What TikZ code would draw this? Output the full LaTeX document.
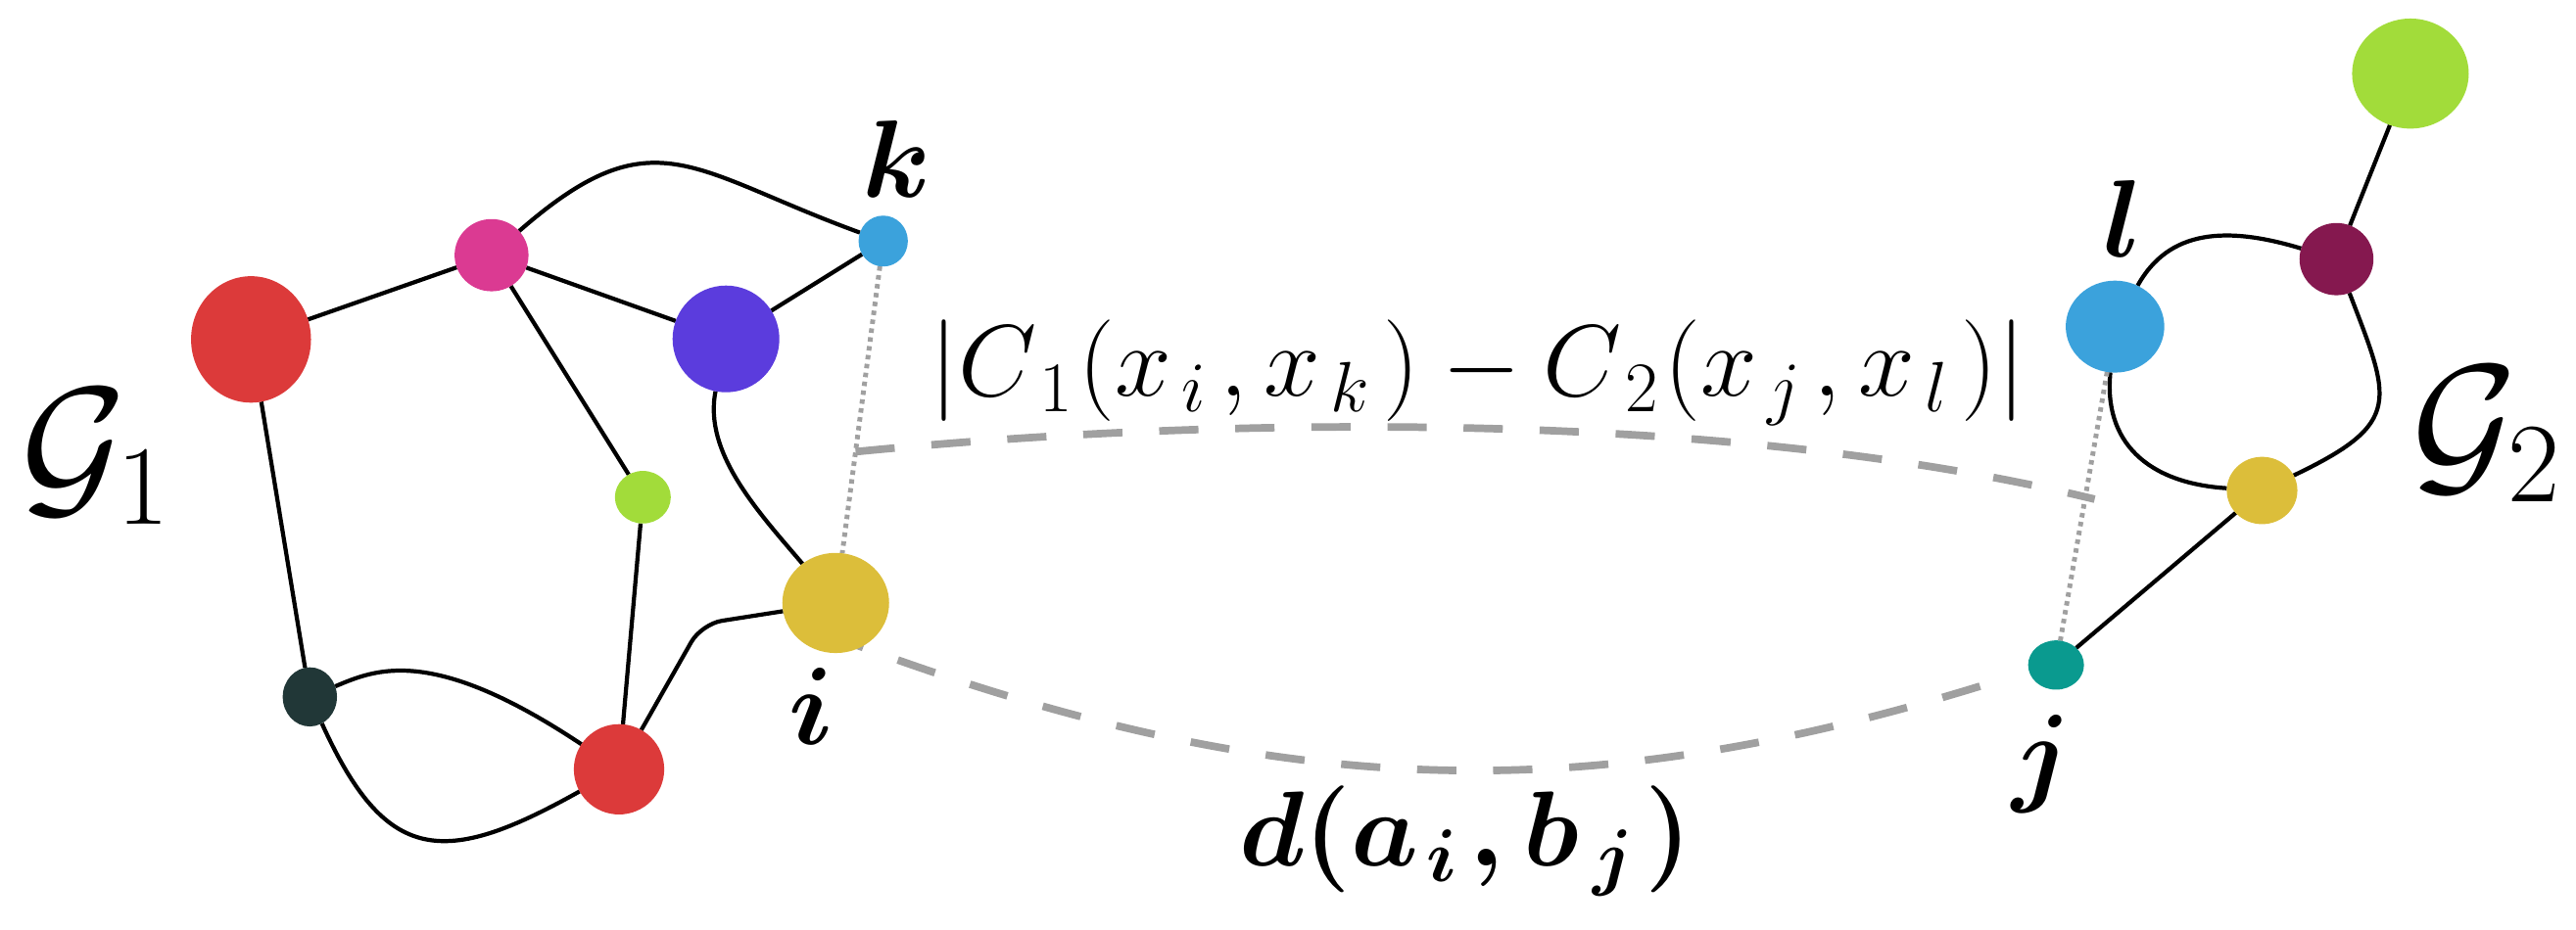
\RequirePackage{fix-cm}
\documentclass[tikz,border=0pt]{standalone}
\usepackage{amsmath,bm}
\usetikzlibrary{shapes.geometric,calc}
\pgfdeclarelayer{bg}
\pgfsetlayers{bg,main}
\definecolor{cred}{HTML}{DC3A3A}
\definecolor{cpink}{HTML}{DB3A92}
\definecolor{cpurple}{HTML}{5B3CDD}
\definecolor{cblue}{HTML}{3BA2DC}
\definecolor{clime}{HTML}{A2DC3A}
\definecolor{cyellow}{HTML}{DCBE3A}
\definecolor{cdark}{HTML}{213737}
\definecolor{cmaroon}{HTML}{85184F}
\definecolor{cteal}{HTML}{0A9A8F}
\definecolor{cgray}{HTML}{A0A0A0}
\begin{document}
\begin{tikzpicture}[x=0.016773cm,y=-0.016773cm,
  vtx/.style={ellipse,draw=none,inner sep=0pt,outer sep=0pt},
  sz/.style n args={2}{minimum width=#1*0.016773cm,minimum height=#2*0.016773cm},
  edge/.style={line width=1.2pt,black},
  dotl/.style={line width=1.4pt,cgray,dash pattern=on 1.3pt off 1.3pt},
  dsh/.style={line width=2.2pt,cgray,dash pattern=on 11.4pt off 10.7pt},
  lab/.style={inner sep=0pt,outer sep=0pt,font=\fontsize{32}{38}\selectfont},
  frm/.style={inner sep=0pt,outer sep=0pt,font=\fontsize{29.5}{36}\selectfont},
  frmb/.style={inner sep=0pt,outer sep=0pt,font=\fontsize{31}{38}\selectfont\boldmath},
  glab/.style={inner sep=0pt,outer sep=0pt,font=\fontsize{47}{56}\selectfont}]
\useasboundingbox (0,0) rectangle (1568,566);
% left graph nodes
\node[vtx,sz={73}{77},fill=cred]    (r1) at (152.8,206.7) {};
\node[vtx,sz={45}{44},fill=cpink]   (p)  at (299.2,155.4) {};
\node[vtx,sz={65}{65},fill=cpurple] (v)  at (441.9,206.4) {};
\node[vtx,sz={30}{31},fill=cblue]   (k)  at (537.6,146.8) {};
\node[vtx,sz={34}{32},fill=clime]   (gs) at (391.3,302.8) {};
\node[vtx,sz={65}{61},fill=cyellow] (i)  at (508.7,367.2) {};
\node[vtx,sz={33}{36},fill=cdark]   (d)  at (188.6,424.4) {};
\node[vtx,sz={55}{55},fill=cred]    (r2) at (376.8,468.5) {};
% right graph nodes
\node[vtx,sz={71}{67},fill=clime]   (gb) at (1467.2,44.8) {};
\node[vtx,sz={45}{44},fill=cmaroon] (m)  at (1422.2,157.8) {};
\node[vtx,sz={60}{56},fill=cblue]   (l)  at (1287.4,198.9) {};
\node[vtx,sz={43}{41},fill=cyellow] (y2) at (1376.9,298.7) {};
\node[vtx,sz={34}{30},fill=cteal]   (j)  at (1251.5,405) {};
% coordinates for the dashed curves
\coordinate (u1) at ($(k)!0.582!(i)$);
\coordinate (u2) at (1275,304);
\coordinate (w1) at (503,386);
\coordinate (w2) at (1224,412);
% labels
\node[lab] (lk) at (545.6,97) {$\bm{k}$};
\node[lab] (li) at (494,430) {$\bm{i}$};
\node[lab] (ll) at (1292,133) {$\bm{l}$};
\node[lab] (lj) at (1243,465) {$\bm{j}$};
\node[glab] (g1) at (58.5,278) {$\mathcal{G}_1$};
\node[glab] (g2) at (1513.5,264.5) {$\mathcal{G}_2$};
\node[frm] (fc) at (899.5,227) {$|C_{\kern3pt 1}\kern1.5pt(x_{\kern3pt i}\kern3.5pt,x_{\kern3pt k}\kern3.5pt)-C_{\kern3pt 2}\kern1.5pt(x_{\kern3pt j}\kern3.5pt,x_{\kern3pt l}\kern3.5pt)|$};
\node[frmb] (fd) at (892,512) {$d(a_{\kern2.5pt i}\kern3pt,b_{\kern4pt j}\kern3pt)$};
\begin{pgfonlayer}{bg}
% left edges
\draw[edge] (r1) -- (p);
\draw[edge] (p) -- (v);
\draw[edge] (v) -- (k);
\draw[edge] (p) .. controls (398,69) and (420,104) .. (k);
\draw[edge] (p) -- (gs);
\draw[edge] (gs) -- (r2);
\draw[edge] (v) .. controls (428,276) and (461.9,312) .. (i);
\draw[edge] (r1) -- (d);
\draw[edge] (d) .. controls (228,408) and (262,392) .. (r2);
\draw[edge] (d) .. controls (234.9,526.5) and (270,528.4) .. (r2);
\draw[edge,rounded corners=6pt] (r2) -- (427,380) -- (i);
% right edges
\draw[edge] (l) .. controls (1320,139.8) and (1355,137.5) .. (m);
\draw[edge] (m) -- (gb);
\draw[edge] (m) .. controls (1455.2,244) and (1463.3,257.5) .. (y2);
\draw[edge] (l) .. controls (1280.3,268.6) and (1306.5,294.2) .. (y2);
\draw[edge] (y2) -- (j);
% dotted
\draw[dotl] (k) -- (i);
\draw[dotl] (l) -- (j);
% dashed
\draw[dsh] (u1) .. controls (746.9,252.9) and (1051.4,249.5) .. (u2);
\draw[dsh] (w1) .. controls (774,489) and (965,495) .. (w2);
\end{pgfonlayer}
\end{tikzpicture}
\end{document}
